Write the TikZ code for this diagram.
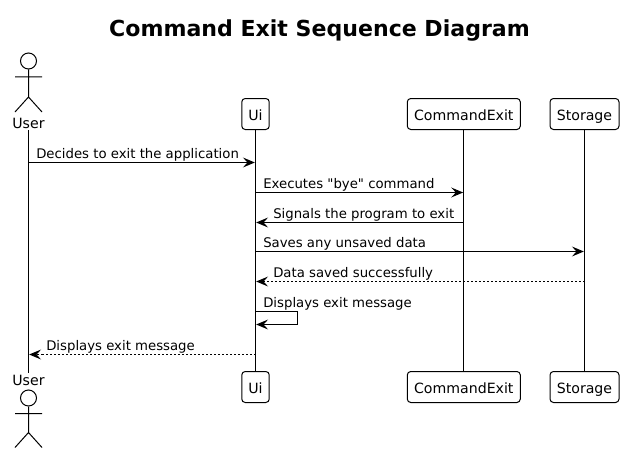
\documentclass[tikz,border=0pt]{standalone}
\usepackage{fontspec}
\setmainfont{DejaVu Sans}[Ligatures=TeXOff]
\usetikzlibrary{arrows.meta}
\tikzset{
  x=0.75pt,y=-0.75pt,
  line/.style={black,line width=0.75pt},
  box/.style={draw=black,line width=0.75pt,fill=white,rounded corners=2.6pt,minimum height=23.25pt,inner sep=0pt,text height=10pt,text depth=1pt,font=\fontsize{10.6pt}{12pt}\selectfont,text=black},
  msg/.style={line,shorten >=0.5pt,-{Stealth[length=9pt,width=7.5pt,inset=3.6pt]}},
  ret/.style={msg,dash pattern=on 1.5pt off 1.5pt},
  lab/.style={anchor=base west,inner sep=0pt,font=\fontsize{9.95pt}{12pt}\selectfont,text=black},
  actorlab/.style={inner sep=0pt,font=\fontsize{10.6pt}{12pt}\selectfont,text=black},
}
\begin{document}
\begin{tikzpicture}
\useasboundingbox (0,0) rectangle (624,453);
\fill[white] (0,0) rectangle (624,453);
\node[inner sep=0pt,font=\bfseries\fontsize{16.55pt}{20pt}\selectfont] (title) at (319.5,30) {Command Exit Sequence Diagram};
% lifeline ends
\coordinate (uT) at (28.5,130); \coordinate (uB) at (28.5,372.5);
\node[box,minimum width=20.6pt] (uiT) at (255.5,114) {Ui};
\node[box,minimum width=20.6pt] (uiB) at (255.5,387) {Ui};
\node[box,minimum width=84.75pt] (ceT) at (463.8,114) {CommandExit};
\node[box,minimum width=84.75pt] (ceB) at (463.8,387) {CommandExit};
\node[box,minimum width=51.75pt] (stT) at (584.5,114) {Storage};
\node[box,minimum width=51.75pt] (stB) at (584.5,387) {Storage};
\draw[line] (uT) -- (uB);
\draw[line] (uiT) -- (uiB);
\draw[line] (ceT) -- (ceB);
\draw[line] (stT) -- (stB);
% actors
\node[actorlab] (userT) at (28.5,123.5) {User};
\node[actorlab] (userB) at (28.5,380.5) {User};
\node[circle,draw=black,line width=0.75pt,minimum size=12pt,inner sep=0pt] (headT) at (28.5,61) {};
\draw[line] (headT.south) -- (28.5,97) (15,77) -- (42,77) (15,112) -- (28.5,97) -- (42,112);
\node[circle,draw=black,line width=0.75pt,minimum size=12pt,inner sep=0pt] (headB) at (28.5,398) {};
\draw[line] (headB.south) -- (28.5,432.5) (15,413.5) -- (42,413.5) (15,447.5) -- (28.5,432.5) -- (42,447.5);
% messages
\coordinate (a1) at (uT |- 0,162.5); \coordinate (b1) at (uiT |- 0,162.5);
\draw[msg] (a1) -- (b1);
\node[lab] (l1) at (36,158.5) {Decides to exit the application};
\coordinate (a2) at (uiT |- 0,192.5); \coordinate (b2) at (ceT |- 0,192.5);
\draw[msg] (a2) -- (b2);
\node[lab] (l2) at (263,188.5) {Executes "bye" command};
\coordinate (a3) at (ceT |- 0,222.5); \coordinate (b3) at (uiT |- 0,222.5);
\draw[msg] (a3) -- (b3);
\node[lab] (l3) at (273,218.5) {Signals the program to exit};
\coordinate (a4) at (uiT |- 0,251.5); \coordinate (b4) at (stT |- 0,251.5);
\draw[msg] (a4) -- (b4);
\node[lab] (l4) at (263,247.5) {Saves any unsaved data};
\coordinate (a5) at (stT |- 0,281.5); \coordinate (b5) at (uiT |- 0,281.5);
\draw[ret] (a5) -- (b5);
\node[lab] (l5) at (273,277.5) {Data saved successfully};
\coordinate (a6) at (uiT |- 0,311.5); \coordinate (b6) at (uiT |- 0,324.5);
\draw[msg] (a6) -- (297.5,311.5) -- (297.5,324.5) -- (b6);
\node[lab] (l6) at (263,307.5) {Displays exit message};
\coordinate (a7) at (uiT |- 0,354.5); \coordinate (b7) at (uT |- 0,354.5);
\draw[ret] (a7) -- (b7);
\node[lab] (l7) at (46,350.5) {Displays exit message};
\end{tikzpicture}
\end{document}
